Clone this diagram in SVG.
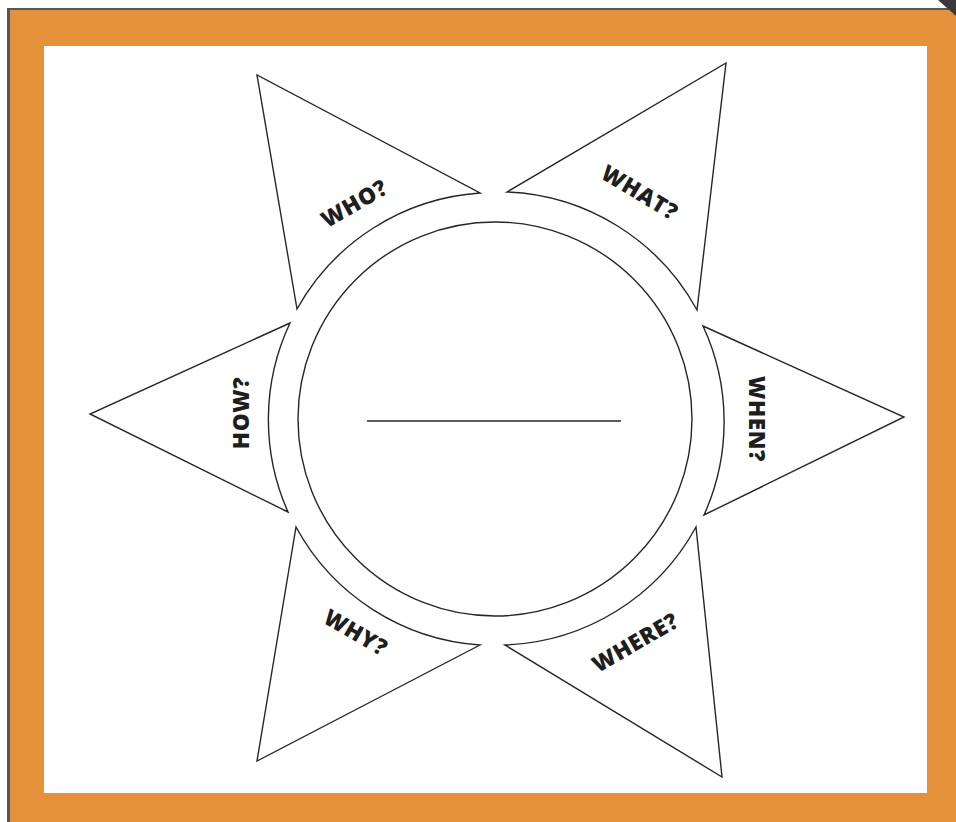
<svg xmlns="http://www.w3.org/2000/svg" width="956" height="822" viewBox="0 0 956 822">
<style>
.shape{fill:#fff;stroke:#262626;stroke-width:1.4;stroke-linejoin:miter}
.lbl{font-family:"Open Sans","DejaVu Sans",sans-serif;font-weight:800;font-size:22.5px;fill:#1e1e1e;text-anchor:middle;dominant-baseline:central;letter-spacing:0.6px}
</style>
<rect x="0" y="0" width="956" height="822" fill="#ffffff"/>
<rect x="7" y="8" width="949" height="814" fill="#4b5866"/>
<rect x="10" y="10" width="946" height="812" fill="#E5913A"/>
<rect x="44" y="46" width="883" height="747" fill="#ffffff"/>
<polygon points="938,0 956,0 956,16" fill="#3a3a3a"/>
<g id="center">
<circle cx="495" cy="419" r="197" class="shape"/>
<line x1="367" y1="421" x2="621" y2="421" stroke="#262626" stroke-width="1.4"/>
</g>
<g id="who">
<path class="shape" d="M297 309 L257 75 L480 193 A227 227 0 0 0 297 309 Z"/>
<text class="lbl" transform="translate(354,203) rotate(-30)">WHO?</text>
</g>
<g id="what">
<path class="shape" d="M507 192 L726 63 L697 310 A227 227 0 0 0 507 192 Z"/>
<text class="lbl" transform="translate(640,192) rotate(31)">WHAT?</text>
</g>
<g id="when">
<path class="shape" d="M703 326 L904 417 L704 515 A227 227 0 0 0 703 326 Z"/>
<text class="lbl" transform="translate(757,419) rotate(90)">WHEN?</text>
</g>
<g id="where">
<path class="shape" d="M696 527 L722 777 L505 645 A227 227 0 0 0 696 527 Z"/>
<text class="lbl" transform="translate(635,642) rotate(-30)">WHERE?</text>
</g>
<g id="why">
<path class="shape" d="M480 645 L257 761 L296 527 A227 227 0 0 0 480 645 Z"/>
<text class="lbl" transform="translate(356,632) rotate(30)">WHY?</text>
</g>
<g id="how">
<path class="shape" d="M288 512 L90 414 L290 323 A227 227 0 0 0 288 512 Z"/>
<text class="lbl" transform="translate(240,413) rotate(-90)">HOW?</text>
</g>
<g id="connectors"></g>
</svg>
